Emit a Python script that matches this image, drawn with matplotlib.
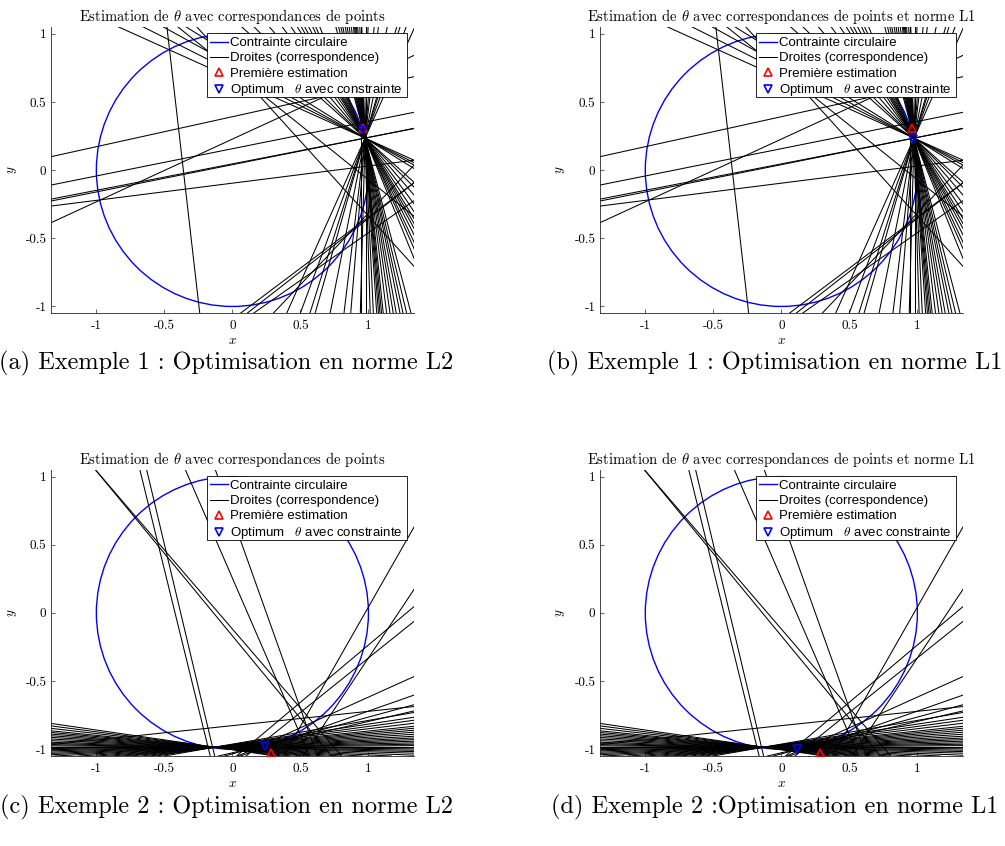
import numpy as np
import matplotlib
matplotlib.use("Agg")
import matplotlib.pyplot as plt
from matplotlib.lines import Line2D
from matplotlib.patches import Circle, Rectangle

plt.rcParams['mathtext.fontset'] = 'cm'
plt.rcParams['font.family'] = ['cmr10', 'DejaVu Serif']
plt.rcParams['axes.unicode_minus'] = False

# ---------------- data
circle_radius = 1.0
tick_vals = [-1, -0.5, 0, 0.5, 1]
tick_labels = ['-1', '-0.5', '0', '0.5', '1']

# exemple 1 : droites passant par le point commun + droites aberrantes
ex1_hub_x, ex1_hub_y = 0.975, 0.235
ex1_hub_slopes = [0.2, 0.194,
                  -0.45, -0.5, -0.55, -0.62, -0.9, -1.0, -1.16, -1.34, -1.5,
                  -1.64, -1.74, -1.84, -1.97, -2.12, -2.25, -2.45, -3.8, -4.2,
                  -4.6, -5.0, -5.6, -6.2, -7.0, -8.1, -9.6, -10.6, -11.7, -13,
                  -15, -21, -34,
                  2.23, 2.7, 3.17, 3.5, 5.0, 8.3, 12.2, 37]
ex1_vert_x = [0.948, 0.982]
ex1_out_x = [-1.336, -1.336, -1.336, -1.336, -0.24, 0.43, 0.55, 0.108, 0.059, 0.155, 0.3]
ex1_out_y = [0.098, -0.11, -0.264, -0.387, -1.05, 0.29, 0.29, -1.05, -1.05, -1.05, -1.05]
ex1_out_slopes = [0.22, 0.2, 0.126, 0.46, -8.7, -1.1, -0.8, 0.78, 0.75, 0.7, 1.05]

# exemple 2
ex2_hub_x, ex2_hub_y = -0.13, -0.985
ex2_hub_slopes = [-0.145, -0.13, -0.115, -0.1, -0.09, -0.08, -0.07, -0.06, -0.05,
                  -0.04, -0.03, -0.022, -0.015, -0.008, 0.0, 0.008, 0.015, 0.022,
                  0.03, 0.038, 0.046, 0.055, 0.065, 0.075, 0.085, 0.095, 0.105,
                  0.12, 0.135, 0.15, 0.174]
ex2_vert_x = []
ex2_out_x = [-1.006, -1.006, -0.68, -0.63, -0.345, -0.125, 0.375, 0.52, 0.03,
             0.1, 0.15, 0.2, -0.65, 0.2, 0.2]
ex2_out_y = [1.049, 1.049, 1.049, 1.049, 1.049, 1.049, -1.05, -1.05, -1.05,
             -1.05, -1.0, -1.0, -0.895, -0.98, -0.98]
ex2_out_slopes = [-1.16, -1.21, -4.06, -4.2, -2.3, -2.8, 1.75, 1.5, 0.84,
                  0.8, 0.45, 0.35, 0.105, 0.27, 0.23]

# estimations (x, y)
ex1_first = (0.957, 0.31)
ex1_opt_l2 = (0.957, 0.298)
ex1_opt_l1 = (0.97, 0.232)
ex2_first = (0.285, -1.025)
ex2_opt_l2 = (0.242, -0.976)
ex2_opt_l1 = (0.118, -0.998)

titles = ["Estimation de $\\theta$ avec correspondances de points",
          "Estimation de $\\theta$ avec correspondances de points et norme L1",
          "Estimation de $\\theta$ avec correspondances de points",
          "Estimation de $\\theta$ avec correspondances de points et norme L1"]
captions = ["(a) Exemple 1 : Optimisation en norme L2",
            "(b) Exemple 1 : Optimisation en norme L1",
            "(c) Exemple 2 : Optimisation en norme L2",
            "(d) Exemple 2 :Optimisation en norme L1"]
legend_labels = ["Contrainte circulaire", "Droites (correspondence)",
                 "Première estimation", "Optimum   $\\theta$ avec constrainte"]


def draw_panel(ax, hub, hub_slopes, vert_x, out_x, out_y, out_slopes, first, opt, title):
    ax.add_patch(Circle((0, 0), circle_radius, fill=False, ec='b', lw=1.0, zorder=1))
    for m in hub_slopes:
        ax.axline(hub, slope=m, color='k', lw=0.75, zorder=2)
    for xv in vert_x:
        ax.axvline(xv, color='k', lw=0.75, zorder=2)
    for x0, y0, m in zip(out_x, out_y, out_slopes):
        ax.axline((x0, y0), slope=m, color='k', lw=0.75, zorder=2)
    ax.plot(first[0], first[1], '^', mfc='none', mec='r', ms=6, mew=1.2, zorder=4)
    ax.plot(opt[0], opt[1], 'v', mfc='none', mec='b', ms=6, mew=1.2, zorder=4)

    ax.set_xlim(-1.336, 1.336)
    ax.set_ylim(-1.05, 1.05)
    ax.set_xticks(tick_vals)
    ax.set_xticklabels(tick_labels)
    ax.set_yticks(tick_vals)
    ax.set_yticklabels(tick_labels)
    ax.tick_params(direction='in', length=3, width=0.5, labelsize=9.5, colors='#262626',
                   labelcolor='k')
    ax.tick_params(axis='x', pad=5)
    ax.tick_params(axis='y', pad=3)
    for s in ['top', 'right']:
        ax.spines[s].set_visible(False)
    for s in ['left', 'bottom']:
        ax.spines[s].set_linewidth(0.6)
        ax.spines[s].set_color('#262626')
    ax.set_xlabel('$x$', fontsize=9.5, labelpad=2)
    ax.set_ylabel('$y$', fontsize=9.5, labelpad=5)
    ax.set_title(title, fontsize=10.5, pad=4)

    # legend box (MATLAB style, wide right margin)
    ax.add_patch(Rectangle((0.4308, 0.754), 0.5502, 0.224, transform=ax.transAxes,
                           fc='white', ec='k', lw=0.6, zorder=5))
    handles = [Line2D([], [], color='b', lw=1.0),
               Line2D([], [], color='k', lw=0.75),
               Line2D([], [], ls='none', marker='^', mfc='none', mec='r', ms=6, mew=1.2),
               Line2D([], [], ls='none', marker='v', mfc='none', mec='b', ms=6, mew=1.2)]
    leg = ax.legend(handles, legend_labels, loc='upper left',
                    bbox_to_anchor=(0.4386, 0.965), borderaxespad=0,
                    prop={'family': 'Liberation Sans', 'size': 9.5},
                    frameon=False, borderpad=0, handlelength=1.36,
                    handletextpad=0.15, labelspacing=0.22)
    leg.set_zorder(6)


fig = plt.figure(figsize=(10.05, 8.46), dpi=100)
lefts = [0.0504, 0.5966]
bottoms = [0.6297, 0.1063]
panels = [
    (ex1_hub_x, ex1_hub_y, ex1_hub_slopes, ex1_vert_x, ex1_out_x, ex1_out_y, ex1_out_slopes, ex1_first, ex1_opt_l2),
    (ex1_hub_x, ex1_hub_y, ex1_hub_slopes, ex1_vert_x, ex1_out_x, ex1_out_y, ex1_out_slopes, ex1_first, ex1_opt_l1),
    (ex2_hub_x, ex2_hub_y, ex2_hub_slopes, ex2_vert_x, ex2_out_x, ex2_out_y, ex2_out_slopes, ex2_first, ex2_opt_l2),
    (ex2_hub_x, ex2_hub_y, ex2_hub_slopes, ex2_vert_x, ex2_out_x, ex2_out_y, ex2_out_slopes, ex2_first, ex2_opt_l1),
]
cap_x = [0.225, 0.771]
cap_y = [0.563, 0.038]
for i, p in enumerate(panels):
    r, c = divmod(i, 2)
    ax = fig.add_axes([lefts[c], bottoms[r], 0.3617, 0.3384])
    hx, hy, hs, vx, ox, oy, osl, fst, opt = p
    draw_panel(ax, (hx, hy), hs, vx, ox, oy, osl, fst, opt, titles[i])
    fig.text(cap_x[c], cap_y[r], captions[i], fontsize=17.5, ha='center', va='baseline')

fig.savefig('out.png', dpi=100)
